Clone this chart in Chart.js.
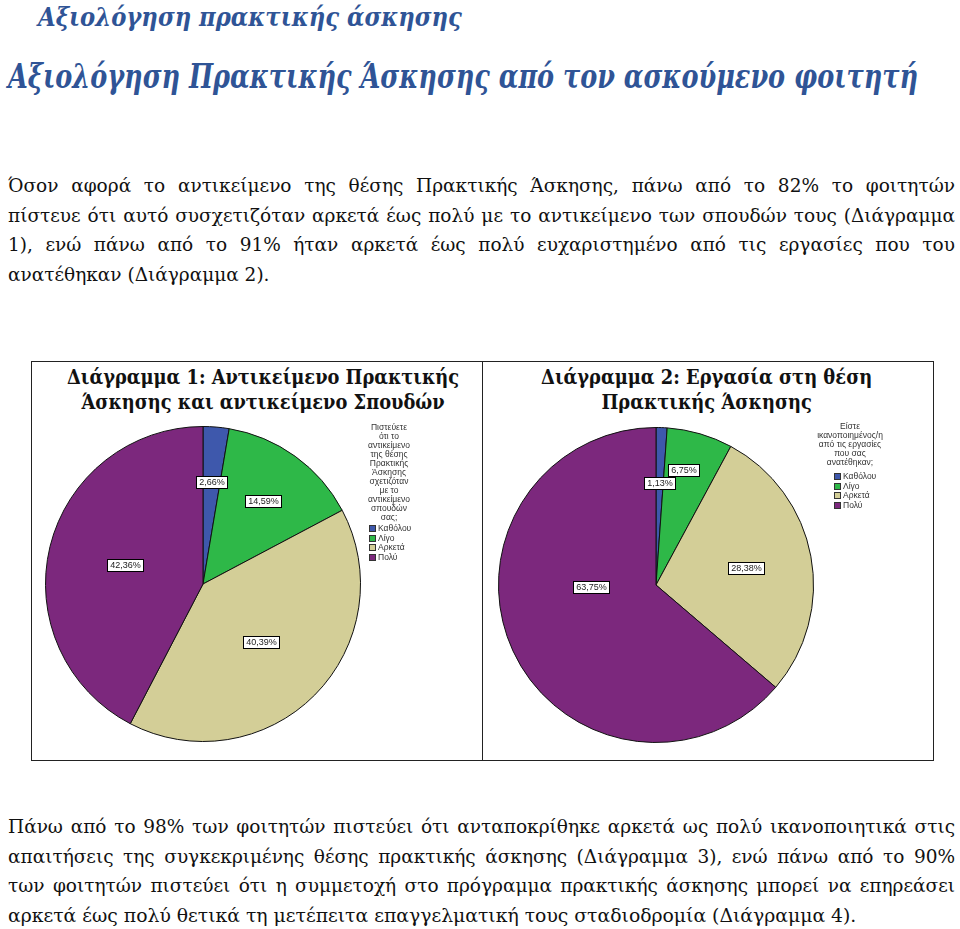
<!DOCTYPE html>
<html lang="el">
<head>
<meta charset="utf-8">
<title>Αξιολόγηση πρακτικής άσκησης</title>
<script src="https://cdn.jsdelivr.net/npm/chart.js@4.4.1/dist/chart.umd.min.js"></script>
<style>
  body { margin: 0; width: 960px; height: 929px; background: #fff; position: relative; overflow: hidden; }
  .fit { display: inline-block; white-space: nowrap; transform-origin: 0 0; }
  .h { position: absolute; font-family: "DejaVu Serif", serif; font-style: italic; font-weight: bold; color: #2f5496; }
  #h1 { left: 38px; top: 2px; font-size: 26px; }
  #h2 { left: 8px; top: 57px; font-size: 33px; }
  .para { position: absolute; left: 8px; width: 947px; font-family: "DejaVu Serif", serif; font-size: 18.5px; line-height: 29.5px; color: #111; }
  .para .j { text-align: justify; text-align-last: justify; }
  #p1 { top: 171px; }
  #p2 { top: 812px; }
  #frame { position: absolute; left: 31px; top: 361px; width: 901px; height: 398px; border: 1px solid #222; }
  #divider { position: absolute; left: 482px; top: 361px; width: 1px; height: 399px; background: #222; }
  .ctitle { position: absolute; top: 364px; width: 448px; text-align: center; }
  .ctitle .fit { font-family: "DejaVu Serif", serif; font-weight: bold; font-size: 21px; line-height: 25px; color: #111; transform-origin: 50% 0; }
  #t1 { left: 32px; }
  #t2 { left: 483px; }
  canvas { position: absolute; }
  #c1 { left: 33px; top: 414px; }
  #c2 { left: 486px; top: 415px; }
  .legend { position: absolute; font-family: "Liberation Sans", Arial, sans-serif; font-size: 8.5px; color: #333; }
  .legend .lt { text-align: center; line-height: 9px; }
  .legend .it { line-height: 9.6px; height: 9.6px; white-space: nowrap; }
  .legend .it span { display: inline-block; width: 7px; height: 7px; border: 1px solid #333; margin-right: 2px; vertical-align: -1px; box-sizing: border-box; }
  #l1 { left: 349px; top: 423px; width: 80px; }
  #l1 .items { margin-top: 2px; padding-left: 20px; }
  #l2 { left: 805px; top: 422px; width: 90px; }
  #l2 .items { margin-top: 5px; padding-left: 29px; }
</style>
</head>
<body>
<div class="h" id="h1"><span class="fit" data-w="424">Αξιολόγηση πρακτικής άσκησης</span></div>
<div class="h" id="h2"><span class="fit" data-w="910">Αξιολόγηση Πρακτικής Άσκησης από τον ασκούμενο φοιτητή</span></div>

<div class="para" id="p1">
  <div class="j">Όσον αφορά το αντικείμενο της θέσης Πρακτικής Άσκησης, πάνω από το 82% το φοιτητών</div>
  <div class="j">πίστευε ότι αυτό συσχετιζόταν αρκετά έως πολύ με το αντικείμενο των σπουδών τους (Διάγραμμα</div>
  <div class="j">1), ενώ πάνω από το 91% ήταν αρκετά έως πολύ ευχαριστημένο από τις εργασίες που του</div>
  <div><span class="fit" data-w="262">ανατέθηκαν (Διάγραμμα 2).</span></div>
</div>

<div id="frame"></div>
<div id="divider"></div>
<div class="ctitle" id="t1"><span class="fit" data-w="392">Διάγραμμα 1: Αντικείμενο Πρακτικής<br>Άσκησης και αντικείμενο Σπουδών</span></div>
<div class="ctitle" id="t2"><span class="fit" data-w="331">Διάγραμμα 2: Εργασία στη θέση<br>Πρακτικής Άσκησης</span></div>

<canvas id="c1" width="340" height="340"></canvas>
<canvas id="c2" width="340" height="340"></canvas>

<div class="legend" id="l1"><div class="lt">Πιστεύετε<br>ότι το<br>αντικείμενο<br>της θέσης<br>Πρακτικής<br>Άσκησης<br>σχετιζόταν<br>με το<br>αντικείμενο<br>σπουδών<br>σας;</div><div class="items"></div></div>
<div class="legend" id="l2"><div class="lt">Είστε<br>ικανοποιημένος/η<br>από τις εργασίες<br>που σας<br>ανατέθηκαν;</div><div class="items"></div></div>

<div class="para" id="p2">
  <div class="j">Πάνω από το 98% των φοιτητών πιστεύει ότι ανταποκρίθηκε αρκετά ως πολύ ικανοποιητικά στις</div>
  <div class="j">απαιτήσεις της συγκεκριμένης θέσης πρακτικής άσκησης (Διάγραμμα 3), ενώ πάνω από το 90%</div>
  <div class="j">των φοιτητών πιστεύει ότι η συμμετοχή στο πρόγραμμα πρακτικής άσκησης μπορεί να επηρεάσει</div>
  <div><span class="fit" data-w="848">αρκετά έως πολύ θετικά τη μετέπειτα επαγγελματική τους σταδιοδρομία (Διάγραμμα 4).</span></div>
</div>

<script>
// answer categories (same for both charts)
const categories = ["Καθόλου", "Λίγο", "Αρκετά", "Πολύ"];
// Διάγραμμα 1: % of students
const chart1Values = [2.66, 14.59, 40.39, 42.36];
// Διάγραμμα 2: % of students
const chart2Values = [1.13, 6.75, 28.38, 63.75];

const sliceColors = ["#3e58ac", "#2eb848", "#d3ce97", "#7c287d"];

// boxed percentage labels like the SPSS output
const pctLabels = {
  id: "pctLabels",
  afterDatasetsDraw(chart, _args, opts) {
    const ctx = chart.ctx;
    const values = chart.data.datasets[0].data;
    chart.getDatasetMeta(0).data.forEach((arc, i) => {
      const p = arc.getProps(["x", "y", "startAngle", "endAngle", "outerRadius"], true);
      const f = (opts.radius && opts.radius[i]) || 0.65;
      const shift = ((opts.shift && opts.shift[i]) || 0) * Math.PI / 180;
      const a = (p.startAngle + p.endAngle) / 2 + shift;
      const x = p.x + Math.cos(a) * p.outerRadius * f;
      const y = p.y + Math.sin(a) * p.outerRadius * f;
      const text = values[i].toFixed(2).replace(".", ",") + "%";
      ctx.save();
      ctx.font = "9px 'Liberation Sans', Arial, sans-serif";
      const w = Math.round(ctx.measureText(text).width) + 5;
      const h = 12;
      const bx = Math.round(x - w / 2) + 0.5;
      const by = Math.round(y - h / 2) + 0.5;
      ctx.fillStyle = "#fff";
      ctx.fillRect(bx, by, w, h);
      ctx.strokeStyle = "#000";
      ctx.lineWidth = 1;
      ctx.strokeRect(bx, by, w, h);
      ctx.fillStyle = "#222";
      ctx.textAlign = "center";
      ctx.textBaseline = "middle";
      ctx.fillText(text, bx + w / 2, by + h / 2 + 0.5);
      ctx.restore();
    });
  },
};

function makePie(id, values, labelOpts) {
  return new Chart(document.getElementById(id), {
    type: "pie",
    data: {
      labels: categories,
      datasets: [{
        data: values,
        backgroundColor: sliceColors,
        borderColor: "#111",
        borderWidth: 1,
      }],
    },
    options: {
      responsive: false,
      animation: false,
      layout: { padding: 12 },
      plugins: {
        legend: { display: false },
        tooltip: { enabled: false },
        pctLabels: labelOpts,
      },
    },
    plugins: [pctLabels],
  });
}

makePie("c1", chart1Values, { radius: [0.65, 0.65, 0.52, 0.51] });
makePie("c2", chart2Values, { radius: [0.65, 0.75, 0.58, 0.41], shift: [0, -3, 0, 23] });

// legend items
document.querySelectorAll(".legend .items").forEach((box) => {
  categories.forEach((c, i) => {
    const row = document.createElement("div");
    row.className = "it";
    const sw = document.createElement("span");
    sw.style.background = sliceColors[i];
    row.appendChild(sw);
    row.appendChild(document.createTextNode(c));
    box.appendChild(row);
  });
});

// squeeze text horizontally to the width it has in the scanned page
document.querySelectorAll(".fit").forEach((el) => {
  const target = +el.dataset.w;
  el.style.transform = "scaleX(" + (target / el.offsetWidth) + ")";
});
</script>
</body>
</html>
